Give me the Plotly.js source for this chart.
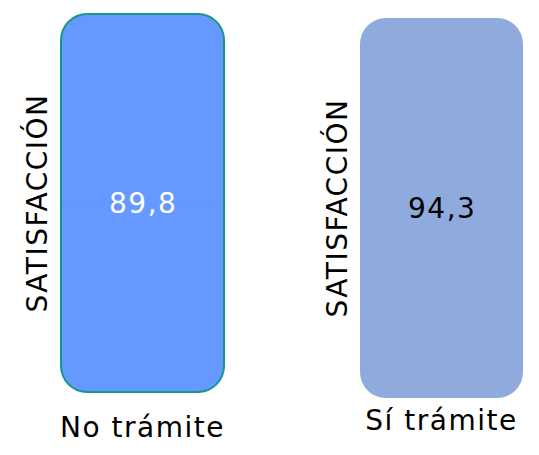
<!DOCTYPE html>
<html><head><meta charset="utf-8">
<script src="https://cdn.plot.ly/plotly-3.0.1.min.js"></script>
<style>
html,body{margin:0;padding:0;background:#fff;overflow:hidden}
#chart text{letter-spacing:1.5px}
</style>
</head><body>
<div id="chart" style="width:539px;height:455px"></div>
<script>
// ---- data ----
const categories = ['No trámite', 'Sí trámite'];
const values = [89.8, 94.3];
const axisLabel = 'SATISFACCIÓN';
const valueLabels = values.map(v => v.toFixed(1).replace('.', ','));

// ---- styling ----
const W = 539, H = 455;
const FONT = 'DejaVu Sans, sans-serif';
const FS = 28;
const teal = '#14998a';
const blueL = '#6699ff';
const blueR = '#8faadc';
const border = 2;
// panel boxes in px [x0, x1, y0(top), y1(bottom)]
const boxes = [[60, 225, 13, 393], [360, 523, 18, 398]];
const fx = (a, b) => [a / W, b / W];
const fy = (t, b) => [(H - b) / H, (H - t) / H];

function barPair(cat, v, xa, ya, color, radius) {
  const common = {type: 'bar', x: [cat], xaxis: xa, yaxis: ya, hoverinfo: 'skip',
    showlegend: false, marker: {color: color, cornerradius: radius, line: {width: 0.02, color: color}}};
  return [Object.assign({}, common, {y: [v]}), Object.assign({}, common, {y: [-v]})];
}

const data = [
  ...barPair(categories[0], values[0], 'x', 'y', teal, 27),
  ...barPair(categories[0], values[0], 'x3', 'y3', blueL, 25),
  ...barPair(categories[1], values[1], 'x2', 'y2', blueR, 26)
];

const b0 = boxes[0], b1 = boxes[1];
const hidden = {showgrid: false, zeroline: false, showline: false, ticks: '', fixedrange: true};
const txt = (c) => ({family: FONT, size: FS, color: c});
const layout = {
  width: W, height: H,
  margin: {l: 0, r: 0, t: 0, b: 0},
  paper_bgcolor: '#ffffff', plot_bgcolor: 'rgba(0,0,0,0)',
  barmode: 'relative', bargap: 0,
  font: txt('#000000'),
  xaxis: Object.assign({}, hidden, {domain: fx(b0[0], b0[1]), type: 'category', range: [-0.5, 0.5], anchor: 'y',
    tickfont: txt('#000'), ticklabelstandoff: 15}),
  yaxis: Object.assign({}, hidden, {domain: fy(b0[2], b0[3]), range: [-values[0], values[0]], anchor: 'x',
    showticklabels: false, title: {text: axisLabel, font: txt('#000'), standoff: 3}}),
  xaxis2: Object.assign({}, hidden, {domain: fx(b1[0], b1[1]), type: 'category', range: [-0.5, 0.5], anchor: 'y2',
    tickfont: txt('#000'), ticklabelstandoff: 3}),
  yaxis2: Object.assign({}, hidden, {domain: fy(b1[2], b1[3]), range: [-values[1], values[1]], anchor: 'x2',
    showticklabels: false, title: {text: axisLabel, font: txt('#000'), standoff: 3}}),
  xaxis3: Object.assign({}, hidden, {domain: fx(b0[0] + border, b0[1] - border), type: 'category', range: [-0.5, 0.5],
    anchor: 'y3', showticklabels: false}),
  yaxis3: Object.assign({}, hidden, {domain: fy(b0[2] + border, b0[3] - border), range: [-values[0], values[0]],
    anchor: 'x3', showticklabels: false}),
  annotations: [
    {xref: 'x3', yref: 'y3', x: categories[0], y: 0, text: valueLabels[0], showarrow: false, font: txt('#ffffff')},
    {xref: 'x2', yref: 'y2', x: categories[1], y: 0, text: valueLabels[1], showarrow: false, font: txt('#000000')}
  ]
};

Plotly.newPlot('chart', data, layout, {displayModeBar: false, staticPlot: true});
</script>
</body></html>
